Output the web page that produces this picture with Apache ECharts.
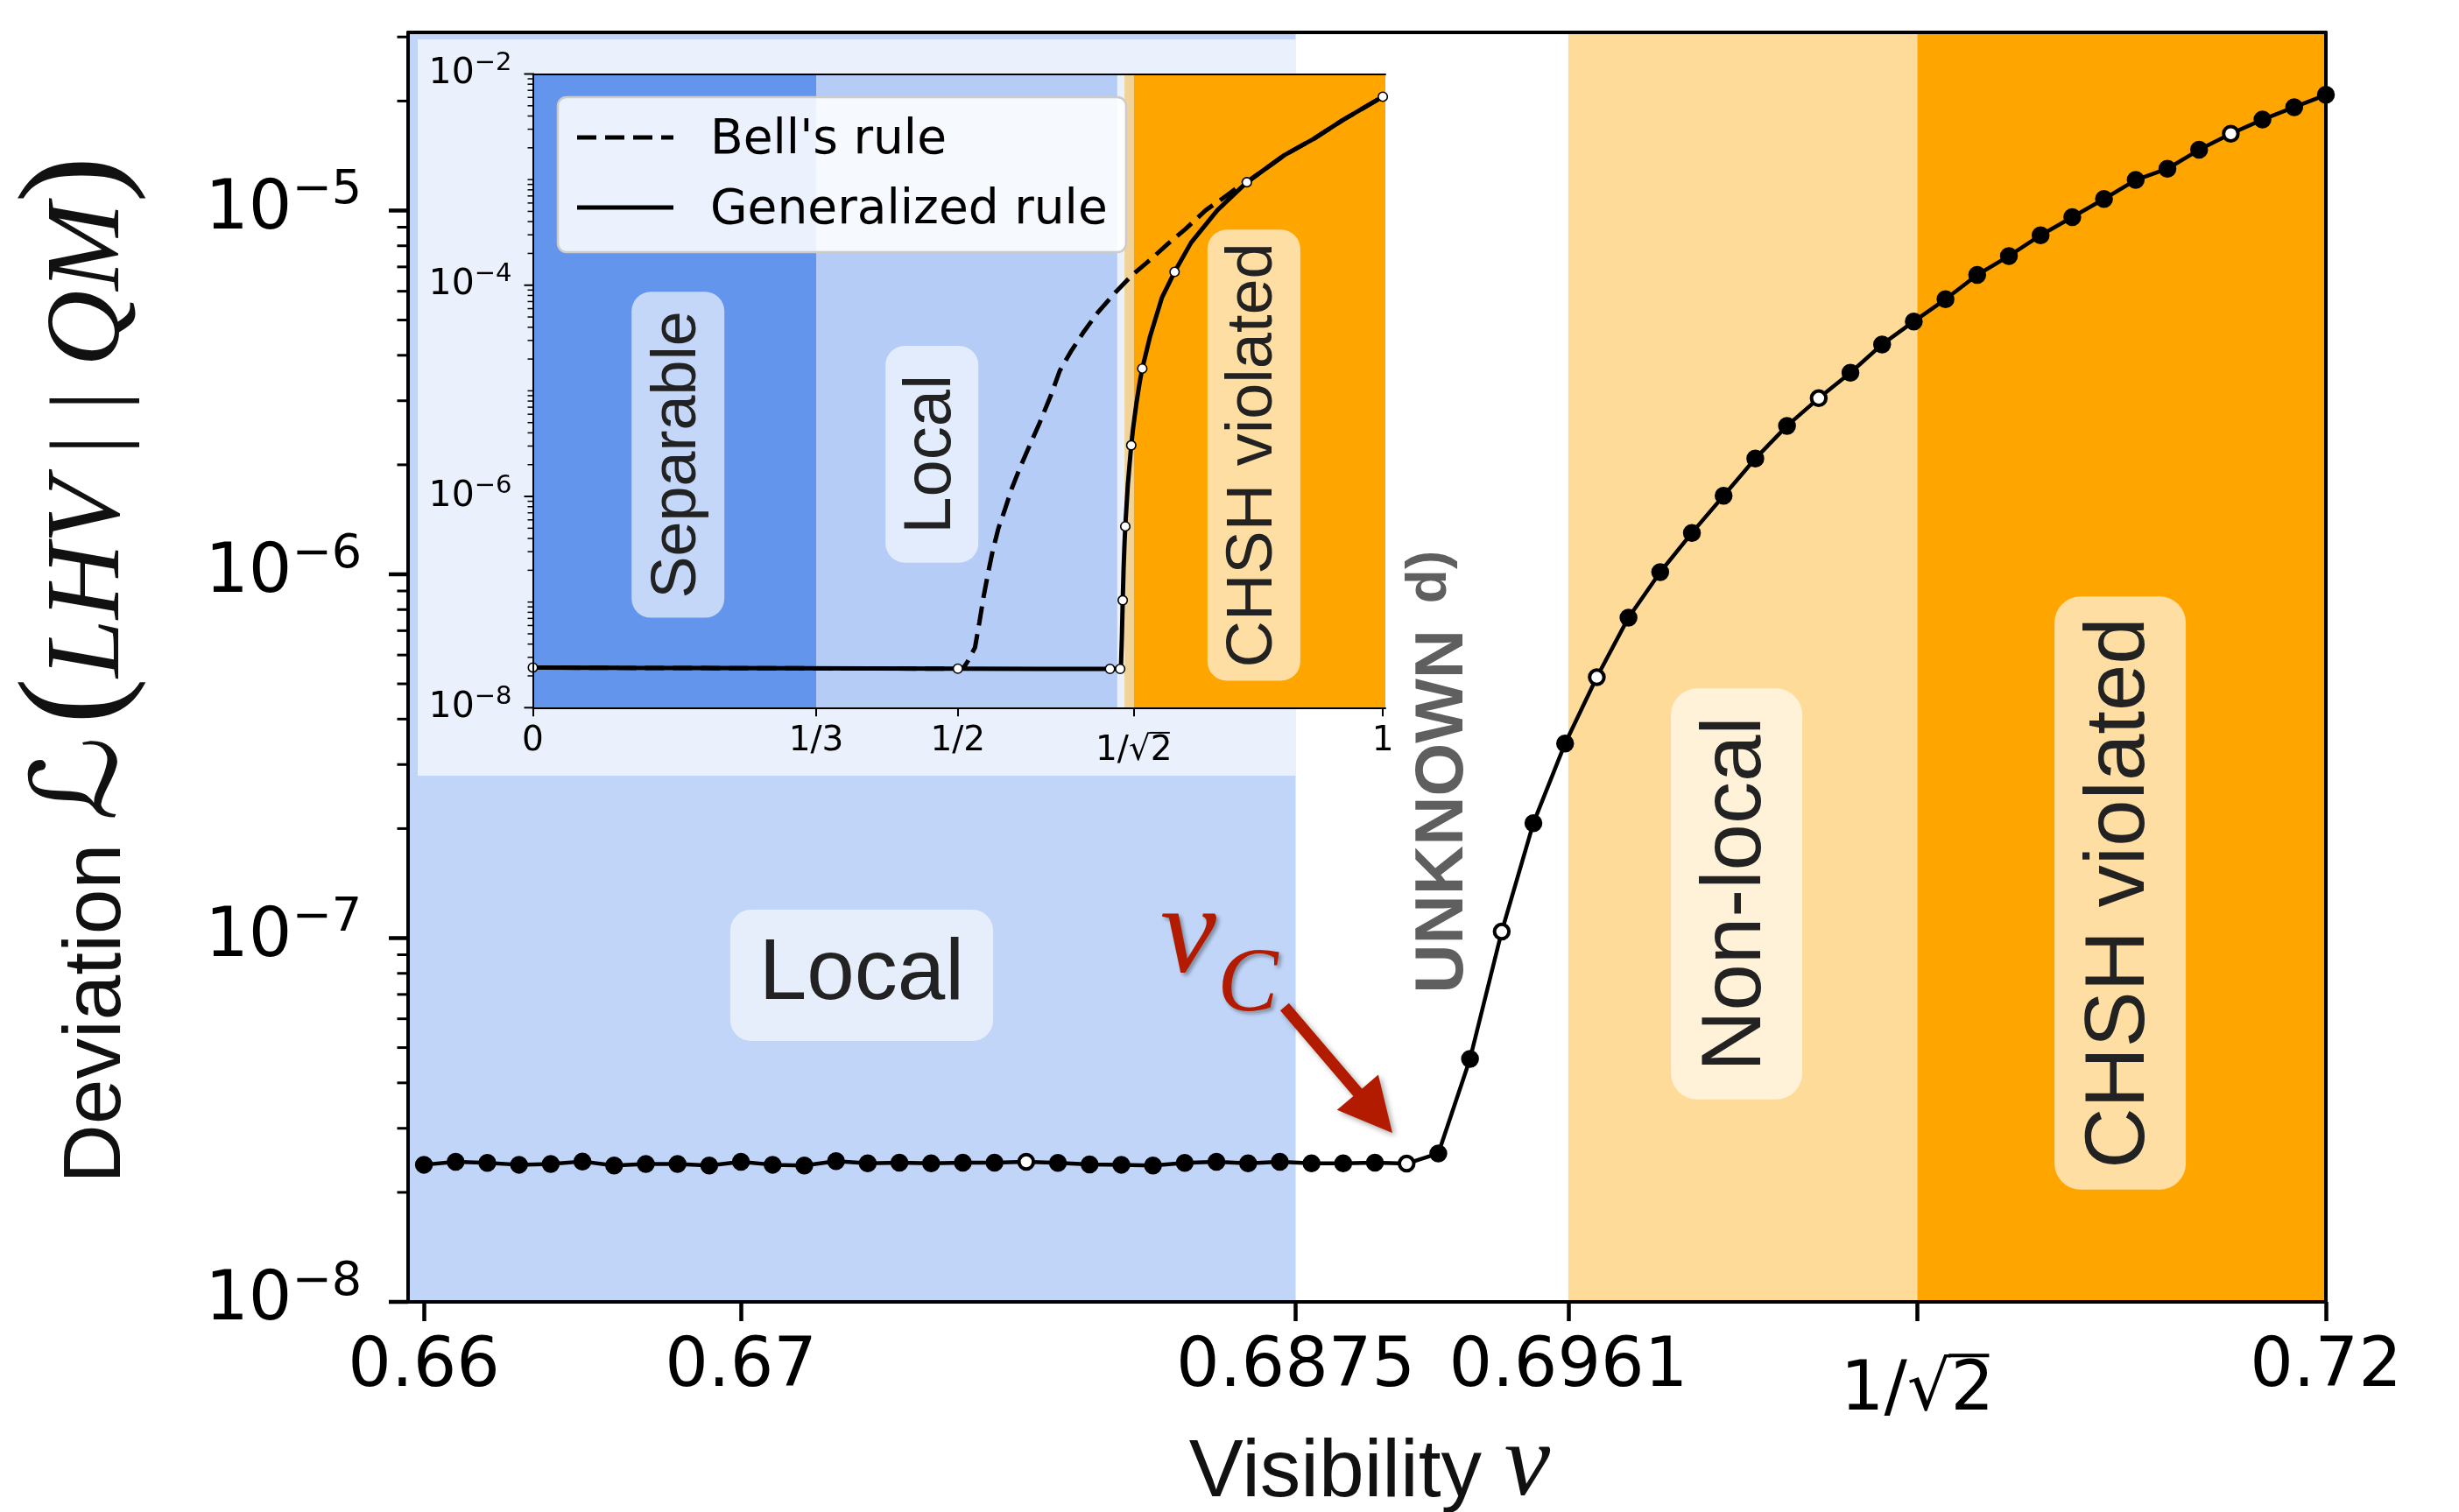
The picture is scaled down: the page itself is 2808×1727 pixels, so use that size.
<!DOCTYPE html>
<html>
<head>
<meta charset="utf-8">
<title>Deviation vs visibility</title>
<script src="https://cdn.jsdelivr.net/npm/echarts@6.0.0/dist/echarts.min.js"></script>
<style>
html,body{margin:0;padding:0;background:#ffffff;}
#chart{width:2808px;height:1727px;}
</style>
</head>
<body>
<div id="chart"></div>
<script>
// ================= DATA =================
const visibility = [
  0.660, 0.661, 0.662, 0.663, 0.664, 0.665, 0.666, 0.667, 0.668, 0.669,
  0.670, 0.671, 0.672, 0.673, 0.674, 0.675, 0.676, 0.677, 0.678, 0.679,
  0.680, 0.681, 0.682, 0.683, 0.684, 0.685, 0.686, 0.687, 0.688, 0.689,
  0.690, 0.691, 0.692, 0.693, 0.694, 0.695, 0.696, 0.697, 0.698, 0.699,
  0.700, 0.701, 0.702, 0.703, 0.704, 0.705, 0.706, 0.707, 0.708, 0.709,
  0.710, 0.711, 0.712, 0.713, 0.714, 0.715, 0.716, 0.717, 0.718, 0.719,
  0.720
];
const deviation = [
  2.382e-8, 2.427e-8, 2.410e-8, 2.382e-8, 2.393e-8, 2.432e-8, 2.371e-8, 2.393e-8, 2.393e-8, 2.371e-8,
  2.427e-8, 2.382e-8, 2.371e-8, 2.438e-8, 2.404e-8, 2.415e-8, 2.404e-8, 2.415e-8, 2.415e-8, 2.427e-8,
  2.410e-8, 2.388e-8, 2.382e-8, 2.371e-8, 2.410e-8, 2.427e-8, 2.404e-8, 2.427e-8, 2.404e-8, 2.404e-8,
  2.415e-8, 2.399e-8, 2.559e-8, 4.656e-8, 1.042e-7, 2.070e-7, 3.428e-7, 5.212e-7, 7.603e-7, 1.014e-6,
  1.300e-6, 1.644e-6, 2.080e-6, 2.559e-6, 3.048e-6, 3.581e-6, 4.285e-6, 4.955e-6, 5.702e-6, 6.653e-6,
  7.499e-6, 8.551e-6, 9.594e-6, 1.076e-5, 1.213e-5, 1.303e-5, 1.469e-5, 1.626e-5, 1.778e-5, 1.923e-5,
  2.080e-5
];
const hollowVisibility = [0.679, 0.691, 0.694, 0.697, 0.704, 0.717];

const mainXTickValues = [0.66, 0.67, 0.6875, 0.6961, 0.70711, 0.72];
const mainXTickLabels = ['0.66', '0.67', '0.6875', '0.6961', '1/\u221A2', '0.72'];
const mainRegionBounds = [[0.6595, 0.6875], [0.6961, 0.70711], [0.70711, 0.72]];

// inset: Generalized rule (solid)
const insetGenX = [0, 0.1, 0.2, 0.3, 0.4, 0.5, 0.6, 0.679, 0.691, 0.692, 0.693, 0.694, 0.695, 0.696,
  0.697, 0.700, 0.704, 0.706, 0.708, 0.710, 0.712, 0.714, 0.717, 0.7263, 0.740, 0.755, 0.7744, 0.8053,
  0.84, 0.8843, 0.9186, 0.9529, 1.0];
const insetGenY = [2.40e-8, 2.38e-8, 2.37e-8, 2.36e-8, 2.35e-8, 2.34e-8, 2.33e-8, 2.33e-8, 2.33e-8,
  2.56e-8, 4.66e-8, 1.04e-7, 2.07e-7, 3.43e-7, 5.21e-7, 1.30e-6, 3.05e-6, 4.285e-6, 5.702e-6, 7.499e-6,
  9.594e-6, 1.213e-5, 1.626e-5, 3.31e-5, 7.59e-5, 1.337e-4, 2.53e-4, 5.13e-4, 9.44e-4, 1.706e-3,
  2.432e-3, 3.664e-3, 6.095e-3];
// inset: Bell's rule (dashed)
const insetBellX = [0, 0.1, 0.2, 0.3, 0.4, 0.5, 0.507, 0.5117, 0.5202, 0.5254, 0.5305, 0.5357, 0.5409,
  0.5478, 0.5547, 0.5632, 0.5735, 0.5838, 0.5959, 0.6096, 0.6199, 0.6336, 0.6474, 0.6645, 0.6851,
  0.7057, 0.7263, 0.7469, 0.7675, 0.7916, 0.8156, 0.8362, 0.84, 0.8843, 0.9186, 0.9529, 1.0];
const insetBellY = [2.40e-8, 2.38e-8, 2.37e-8, 2.36e-8, 2.35e-8, 2.34e-8, 2.40e-8, 2.754e-8, 3.715e-8,
  6.457e-8, 1.148e-7, 1.905e-7, 3.020e-7, 5.012e-7, 7.244e-7, 1.175e-6, 1.905e-6, 2.951e-6, 4.898e-6,
  9.120e-6, 1.549e-5, 2.399e-5, 3.548e-5, 5.495e-5, 8.511e-5, 1.259e-4, 1.738e-4, 2.455e-4, 3.388e-4,
  5.129e-4, 6.998e-4, 9.333e-4, 9.44e-4, 1.706e-3, 2.432e-3, 3.664e-3, 6.095e-3];
// inset: white markers on the generalized rule
const insetMarkerX = [0, 0.5, 0.679, 0.691, 0.694, 0.697, 0.704, 0.717, 0.755, 0.84, 1.0];
const insetMarkerY = [2.40e-8, 2.34e-8, 2.33e-8, 2.33e-8, 1.04e-7, 5.21e-7, 3.05e-6, 1.626e-5,
  1.337e-4, 9.44e-4, 6.095e-3];

const insetXTickValues = [0, 0.33333, 0.5, 0.70711, 1];
const insetXTickLabels = ['0', '1/3', '1/2', '1/\u221A2', '1'];
const insetRegionBounds = [[0, 0.33333], [0.33333, 0.6875], [0.6961, 0.70711], [0.70711, 1.003]];
const legendNames = ["Bell's rule", 'Generalized rule'];

// ================= STYLE / LAYOUT =================
const mainRegionColors = ['#C1D5F8', '#FFDB99', '#FFA500'];
const insetRegionColors = ['#6495ED', '#B4CCF6', '#F2D397', '#FFA500'];
const mainX = [0.6595, 0.72], mainY = [1e-8, 3.088e-5];
const insX = [0, 1.003], insY = [1e-8, 1e-2];
const SANS = 'DejaVu Sans';
const ARIAL = 'Liberation Sans';
const SERIF = 'Liberation Serif';

const chart = echarts.init(document.getElementById('chart'), null, { renderer: 'canvas', width: 2808, height: 1727, devicePixelRatio: 1 });

function findLabel(vals, v) {
  for (let i = 0; i < vals.length; i++) if (Math.abs(vals[i] - v) < 1e-6) return i;
  return -1;
}
function regionRenderer(colors) {
  return function (params, api) {
    const cs = params.coordSys;
    const a = api.coord([api.value(0), 1e-6])[0];
    const b = api.coord([api.value(1), 1e-6])[0];
    return { type: 'rect', shape: { x: a, y: cs.y, width: b - a, height: cs.height }, style: { fill: colors[params.dataIndex] } };
  };
}
function tickRenderer(majorLen, minorLen, majorW, minorW) {
  return function (params, api) {
    const p = api.coord([api.value(0), api.value(1)]);
    const major = api.value(2) === 1;
    const len = major ? majorLen : minorLen;
    return { type: 'line', shape: { x1: p[0] - len, y1: p[1], x2: p[0], y2: p[1] },
      style: { stroke: '#000', lineWidth: major ? majorW : minorW } };
  };
}

// axis decoration: log ticks (majors at decades, minors at 2..9)
const mainYTicks = [];
for (let k = -8; k <= -5; k++) for (let m = 1; m <= 9; m++) {
  const v = m * Math.pow(10, k);
  if (v <= mainY[1] * 1.0001) mainYTicks.push([mainX[0], v, m === 1 ? 1 : 0]);
}
const insetYTicks = [];
for (let k = -8; k <= -2; k++) for (let m = 1; m <= 9; m++) {
  const v = m * Math.pow(10, k);
  if (v <= insY[1] * 1.0001) insetYTicks.push([insX[0], v, (m === 1 && k % 2 === 0) ? 1 : 0]);
}

const hollowSet = new Set(hollowVisibility.map(v => v.toFixed(3)));
const mainData = visibility.map((v, i) => {
  const d = { value: [v, deviation[i]] };
  if (hollowSet.has(v.toFixed(3))) d.itemStyle = { color: '#ffffff', borderColor: '#000', borderWidth: 4 };
  return d;
});

function logLabel(value, evenOnly) {
  const e = Math.log10(value);
  const r = Math.round(e);
  if (Math.abs(e - r) > 1e-6) return '';
  if (evenOnly && r % 2 !== 0) return '';
  return '{b|10}{s|\u2212' + Math.abs(r) + '}';
}

const MAIN_LABEL_MARGIN = 37, MAIN_SQRT_PAD = 27, MAIN_FS = 78;
const INS_LABEL_MARGIN = 19, INS_SQRT_PAD = 11, INS_FS = 39;

const option = {
  animation: false,
  backgroundColor: '#ffffff',
  grid: [
    { left: 466, top: 37, width: 2190, height: 1450, show: false, containLabel: false, outerBoundsMode: 'none' },
    { left: 608.5, top: 84.5, width: 973.5, height: 723.8, show: false, containLabel: false, outerBoundsMode: 'none' }
  ],
  xAxis: [
    { gridIndex: 0, type: 'value', min: mainX[0], max: mainX[1], position: 'bottom', z: 8,
      axisLine: { show: true, lineStyle: { color: '#000', width: 4 } },
      axisTick: { show: true, customValues: mainXTickValues, length: 22, inside: false, lineStyle: { color: '#000', width: 4.5 } },
      axisLabel: { show: true, customValues: mainXTickValues, margin: MAIN_LABEL_MARGIN, color: '#000', fontFamily: SANS, fontSize: MAIN_FS, lineHeight: MAIN_FS,
        formatter: function (v) { const i = findLabel(mainXTickValues, v); if (i < 0) return ''; return i === 4 ? '{r|' + mainXTickLabels[i] + '}' : mainXTickLabels[i]; },
        rich: { r: { fontFamily: SANS, fontSize: MAIN_FS, lineHeight: MAIN_FS + MAIN_SQRT_PAD, color: '#000', padding: [MAIN_SQRT_PAD, 0, 0, 0] } } },
      splitLine: { show: false } },
    { gridIndex: 0, type: 'value', min: mainX[0], max: mainX[1], position: 'top', z: 8,
      axisLine: { show: true, lineStyle: { color: '#000', width: 4 } }, axisTick: { show: false }, axisLabel: { show: false }, splitLine: { show: false } },
    { gridIndex: 1, type: 'value', min: insX[0], max: insX[1], position: 'bottom', z: 9,
      axisLine: { show: true, lineStyle: { color: '#000', width: 2 } },
      axisTick: { show: true, customValues: insetXTickValues, length: 10, lineStyle: { color: '#000', width: 2 } },
      axisLabel: { show: true, customValues: insetXTickValues, margin: INS_LABEL_MARGIN, color: '#000', fontFamily: SANS, fontSize: INS_FS, lineHeight: INS_FS,
        formatter: function (v) { const i = findLabel(insetXTickValues, v); if (i < 0) return ''; return i === 3 ? '{r|' + insetXTickLabels[i] + '}' : insetXTickLabels[i]; },
        rich: { r: { fontFamily: SANS, fontSize: INS_FS, lineHeight: INS_FS + INS_SQRT_PAD, color: '#000', padding: [INS_SQRT_PAD, 0, 0, 0] } } },
      splitLine: { show: false } },
    { gridIndex: 1, type: 'value', min: insX[0], max: insX[1], position: 'top', z: 9,
      axisLine: { show: true, lineStyle: { color: '#000', width: 2 } }, axisTick: { show: false }, axisLabel: { show: false }, splitLine: { show: false } }
  ],
  yAxis: [
    { gridIndex: 0, type: 'log', logBase: 10, min: mainY[0], max: mainY[1], position: 'left', z: 8,
      axisLine: { show: true, lineStyle: { color: '#000', width: 4 } }, axisTick: { show: false },
      axisLabel: { show: true, margin: 53, showMaxLabel: false, color: '#000', fontFamily: SANS, fontSize: 78,
        formatter: function (v) { return logLabel(v, false); },
        rich: { b: { fontFamily: SANS, fontSize: 78, lineHeight: 78, color: '#000', verticalAlign: 'middle' },
                s: { fontFamily: SANS, fontSize: 54, lineHeight: 54, color: '#000', verticalAlign: 'middle', padding: [0, 0, 45, 0] } } },
      splitLine: { show: false } },
    { gridIndex: 0, type: 'log', logBase: 10, min: mainY[0], max: mainY[1], position: 'right', z: 8,
      axisLine: { show: true, lineStyle: { color: '#000', width: 4 } }, axisTick: { show: false }, axisLabel: { show: false }, splitLine: { show: false } },
    { gridIndex: 1, type: 'log', logBase: 10, min: insY[0], max: insY[1], position: 'left', z: 9,
      axisLine: { show: true, lineStyle: { color: '#000', width: 2 } }, axisTick: { show: false },
      axisLabel: { show: true, margin: 24, showMaxLabel: true, showMinLabel: true, color: '#000', fontFamily: SANS, fontSize: 41,
        formatter: function (v) { return logLabel(v, true); },
        rich: { b: { fontFamily: SANS, fontSize: 41, lineHeight: 41, color: '#000', verticalAlign: 'middle' },
                s: { fontFamily: SANS, fontSize: 29, lineHeight: 29, color: '#000', verticalAlign: 'middle', padding: [0, 0, 24, 0] } } },
      splitLine: { show: false } },
    { gridIndex: 1, type: 'log', logBase: 10, min: insY[0], max: insY[1], position: 'right', z: 9,
      axisLine: { show: true, lineStyle: { color: '#000', width: 2 } }, axisTick: { show: false }, axisLabel: { show: false }, splitLine: { show: false } }
  ],
  series: [
    { type: 'custom', name: 'mainRegions', coordinateSystem: 'cartesian2d', xAxisIndex: 0, yAxisIndex: 0, z: 1, silent: true,
      data: mainRegionBounds.map(b => [b[0], b[1]]), encode: { x: [0, 1] }, renderItem: regionRenderer(mainRegionColors) },
    { type: 'custom', name: 'mainYTicks', coordinateSystem: 'cartesian2d', xAxisIndex: 0, yAxisIndex: 0, z: 8, silent: true,
      data: mainYTicks, encode: { x: 0, y: 1 }, renderItem: tickRenderer(22, 12.5, 4.5, 3) },
    { type: 'line', name: 'Deviation', xAxisIndex: 0, yAxisIndex: 0, z: 3, data: mainData,
      symbol: 'circle', symbolSize: 16.5, showAllSymbol: true, clip: false,
      lineStyle: { color: '#000', width: 4.5 }, itemStyle: { color: '#000', borderColor: '#000', borderWidth: 4 } },
    { type: 'custom', name: 'insetRegions', coordinateSystem: 'cartesian2d', xAxisIndex: 2, yAxisIndex: 2, z: 5, silent: true,
      data: insetRegionBounds.map(b => [b[0], b[1]]), encode: { x: [0, 1] }, renderItem: regionRenderer(insetRegionColors) },
    { type: 'custom', name: 'insetYTicks', coordinateSystem: 'cartesian2d', xAxisIndex: 2, yAxisIndex: 2, z: 9, silent: true,
      data: insetYTicks, encode: { x: 0, y: 1 }, renderItem: tickRenderer(10, 6, 2, 1.5) },
    { type: 'line', name: legendNames[0], xAxisIndex: 2, yAxisIndex: 2, z: 6, symbol: 'none',
      data: insetBellX.map((x, i) => [x, insetBellY[i]]),
      lineStyle: { color: '#000', width: 5, type: [22, 10] } },
    { type: 'line', name: legendNames[1], xAxisIndex: 2, yAxisIndex: 2, z: 6, symbol: 'none',
      data: insetGenX.map((x, i) => [x, insetGenY[i]]),
      lineStyle: { color: '#000', width: 5 } },
    { type: 'scatter', name: 'insetMarkers', xAxisIndex: 2, yAxisIndex: 2, z: 7, symbol: 'circle', symbolSize: 10.5,
      data: insetMarkerX.map((x, i) => [x, insetMarkerY[i]]),
      itemStyle: { color: '#ffffff', borderColor: '#000', borderWidth: 1.6, opacity: 1 } }
  ]
};
chart.setOption(option);

// ================= ANNOTATIONS =================
const P = (si, x, y) => chart.convertToPixel({ seriesIndex: si }, [x, y]);
const MAIN = 2, INS = 6;
const els = [];

// inset figure panel (layout box)
els.push({ type: 'rect', z: 4, silent: true, shape: { x: 477, y: 45, width: 1003, height: 841 }, style: { fill: '#EAF1FC' } });

function boxText(pos, text, o) {
  return { type: 'text', x: pos[0], y: pos[1], rotation: o.rot ? Math.PI / 2 : 0, z: 20, silent: true,
    style: { text: text, fontFamily: o.ff || ARIAL, fontSize: o.fs, fontWeight: o.fw || 'normal', fill: o.color || '#222222',
      align: 'center', verticalAlign: 'middle', lineHeight: o.fs,
      backgroundColor: o.bg || 'transparent', padding: o.pad || 0, borderRadius: o.r || 0 } };
}
// main-plot region labels
els.push(boxText(P(MAIN, 0.67381, 7.90e-8), 'Local', { fs: 98, bg: 'rgba(255,255,255,0.6)', pad: [26, 33, 26, 33], r: 24 }));
els.push(boxText(P(MAIN, 0.70141, 1.322e-7), 'Non-local', { rot: true, fs: 96, bg: 'rgba(255,255,255,0.63)', pad: [27, 32, 27, 32], r: 30 }));
els.push(boxText(P(MAIN, 0.71351, 1.330e-7), 'CHSH violated', { rot: true, fs: 96, bg: 'rgba(255,255,255,0.64)', pad: [27, 24, 27, 24], r: 30 }));
els.push(boxText(P(MAIN, 0.69217, 2.229e-7), 'UNKNOWN', { rot: true, fs: 78, fw: 'bold', color: '#5F5F5F' }));
els.push(boxText(P(MAIN, 0.69174, 9.835e-7), 'd)', { rot: true, fs: 64, fw: 'bold', color: '#5F5F5F' }));
// inset region labels
els.push(boxText(P(INS, 0.1707, 2.48e-6), 'Separable', { rot: true, fs: 72, bg: 'rgba(255,255,255,0.62)', pad: [17, 22, 17, 22], r: 22 }));
els.push(boxText(P(INS, 0.4695, 2.51e-6), 'Local', { rot: true, fs: 76, bg: 'rgba(255,255,255,0.62)', pad: [15, 33, 15, 33], r: 22 }));
els.push(boxText(P(INS, 0.8483, 2.46e-6), 'CHSH violated', { rot: true, fs: 74, bg: 'rgba(255,255,255,0.64)', pad: [16, 15, 16, 15], r: 22 }));

// vinculum (overline) of the square root in the 1/sqrt(2) tick labels, measured from the font
(function () {
  const ctx = document.createElement('canvas').getContext('2d');
  function vinculum(axisIdx, value, fs, axisY, margin, pad, lw) {
    ctx.font = fs + 'px "' + SANS + '"';
    ctx.textBaseline = 'middle';
    const full = ctx.measureText('1/\u221A2').width;
    const pre = ctx.measureText('1/').width;
    const pre2 = ctx.measureText('1/\u221A').width;
    const mr = ctx.measureText('\u221A');
    const m2 = ctx.measureText('2');
    const middleY = axisY + margin + pad + fs / 2;
    const top = middleY - mr.actualBoundingBoxAscent + lw / 2;
    const cx = chart.convertToPixel({ xAxisIndex: axisIdx }, value);
    const left = cx - full / 2;
    const x1 = left + pre + mr.actualBoundingBoxRight - lw * 0.6;
    const x2 = left + pre2 + m2.actualBoundingBoxRight + lw * 0.5;
    els.push({ type: 'line', z: 20, silent: true, shape: { x1: x1, y1: top, x2: x2, y2: top }, style: { stroke: '#000', lineWidth: lw } });
  }
  vinculum(0, 0.70711, MAIN_FS, 37 + 1450, MAIN_LABEL_MARGIN, MAIN_SQRT_PAD, 4);
  vinculum(2, 0.70711, INS_FS, 84.5 + 723.8, INS_LABEL_MARGIN, INS_SQRT_PAD, 2);
})();

// v_C annotation and arrow
const red = '#B31B00';
const vPos = P(MAIN, 0.68323, 9.95e-8), cPos = P(MAIN, 0.68503, 7.35e-8);
const shadow = { textShadowColor: 'rgba(0,0,0,0.35)', textShadowBlur: 4, textShadowOffsetX: 3, textShadowOffsetY: 3 };
els.push({ type: 'text', x: vPos[0], y: vPos[1], z: 20, silent: true, style: Object.assign({ text: 'v', fontFamily: SERIF, fontStyle: 'italic', fontSize: 144, fill: red, align: 'left', verticalAlign: 'middle' }, shadow) });
els.push({ type: 'text', x: cPos[0], y: cPos[1], z: 20, silent: true, style: Object.assign({ text: 'C', fontFamily: SERIF, fontStyle: 'italic', fontSize: 104, fill: red, align: 'left', verticalAlign: 'middle' }, shadow) });
(function () {
  const T = P(MAIN, 0.68715, 6.47e-8), H = P(MAIN, 0.69055, 2.913e-8);
  const dx = H[0] - T[0], dy = H[1] - T[1], L = Math.hypot(dx, dy);
  const ux = dx / L, uy = dy / L, nx = -uy, ny = ux;
  const hl = 61, hw = 62, sw = 13;
  const Bx = H[0] - ux * hl, By = H[1] - uy * hl;
  const pts = [
    [T[0] + nx * sw / 2, T[1] + ny * sw / 2], [Bx + nx * sw / 2, By + ny * sw / 2], [Bx + nx * hw / 2, By + ny * hw / 2],
    [H[0], H[1]], [Bx - nx * hw / 2, By - ny * hw / 2], [Bx - nx * sw / 2, By - ny * sw / 2], [T[0] - nx * sw / 2, T[1] - ny * sw / 2]
  ];
  els.push({ type: 'polygon', z: 19, silent: true, shape: { points: pts },
    style: { fill: red, shadowColor: 'rgba(0,0,0,0.35)', shadowBlur: 6, shadowOffsetX: 3, shadowOffsetY: 3 } });
})();

// inset legend (drawn manually)
els.push({ type: 'rect', z: 20, silent: true, shape: { x: 637, y: 111, width: 649, height: 177, r: 10 },
  style: { fill: 'rgba(255,255,255,0.88)', stroke: '#cccccc', lineWidth: 2.5 } });
els.push({ type: 'line', z: 21, silent: true, shape: { x1: 659, y1: 157, x2: 769, y2: 157 }, style: { stroke: '#000', lineWidth: 5, lineDash: [22, 10] } });
els.push({ type: 'line', z: 21, silent: true, shape: { x1: 659, y1: 237, x2: 769, y2: 237 }, style: { stroke: '#000', lineWidth: 5 } });
els.push({ type: 'text', x: 811, y: 161, z: 21, silent: true, style: { text: legendNames[0], fontFamily: SANS, fontSize: 55, fill: '#000', align: 'left', verticalAlign: 'middle' } });
els.push({ type: 'text', x: 811, y: 241, z: 21, silent: true, style: { text: legendNames[1], fontFamily: SANS, fontSize: 55, fill: '#000', align: 'left', verticalAlign: 'middle' } });

// axis titles
function H2(c, f, m) { return 2 * (c + m * f); }
els.push({ type: 'text', x: 1564, y: 1716 + 30, z: 20, silent: true,
  style: { text: '{a|Visibility }{b|\u03BD}', align: 'center', verticalAlign: 'bottom',
    rich: { a: { fontFamily: ARIAL, fontSize: 93, fill: '#111', height: H2(30, 93, 0.347), lineHeight: H2(30, 93, 0.347), verticalAlign: 'bottom' },
            b: { fontFamily: SERIF, fontStyle: 'italic', fontSize: 118, fill: '#111', height: H2(30, 118, 0.3374), lineHeight: H2(30, 118, 0.3374), verticalAlign: 'bottom' } } } });
const cY = 40;
els.push({ type: 'text', x: 143.5 + cY, y: 765, rotation: Math.PI / 2, z: 20, silent: true,
  style: { text: '{a|Deviation }{b|\u2112}{p|\u200A(}{c|LHV}{d| | | }{c|QM}{p|)}', align: 'center', verticalAlign: 'bottom',
    rich: {
      a: { fontFamily: ARIAL, fontSize: 93, fill: '#111', height: H2(cY, 93, 0.347), lineHeight: H2(cY, 93, 0.347), verticalAlign: 'bottom' },
      b: { fontFamily: '"DejaVu Serif", "DejaVu Sans"', fontSize: 135, fill: '#111', height: H2(cY, 135, 0.346), lineHeight: H2(cY, 135, 0.346), verticalAlign: 'bottom' },
      p: { fontFamily: SERIF, fontSize: 160, fill: '#111', height: H2(cY, 160, 0.3374), lineHeight: H2(cY, 160, 0.3374), verticalAlign: 'bottom' },
      c: { fontFamily: SERIF, fontStyle: 'italic', fontSize: 120, fill: '#111', height: H2(cY, 120, 0.3374), lineHeight: H2(cY, 120, 0.3374), verticalAlign: 'bottom' },
      d: { fontFamily: SERIF, fontSize: 112, fill: '#111', height: H2(cY, 112, 0.3374), lineHeight: H2(cY, 112, 0.3374), verticalAlign: 'bottom' }
    } } });

chart.setOption({ graphic: { elements: els } });
</script>
</body>
</html>
